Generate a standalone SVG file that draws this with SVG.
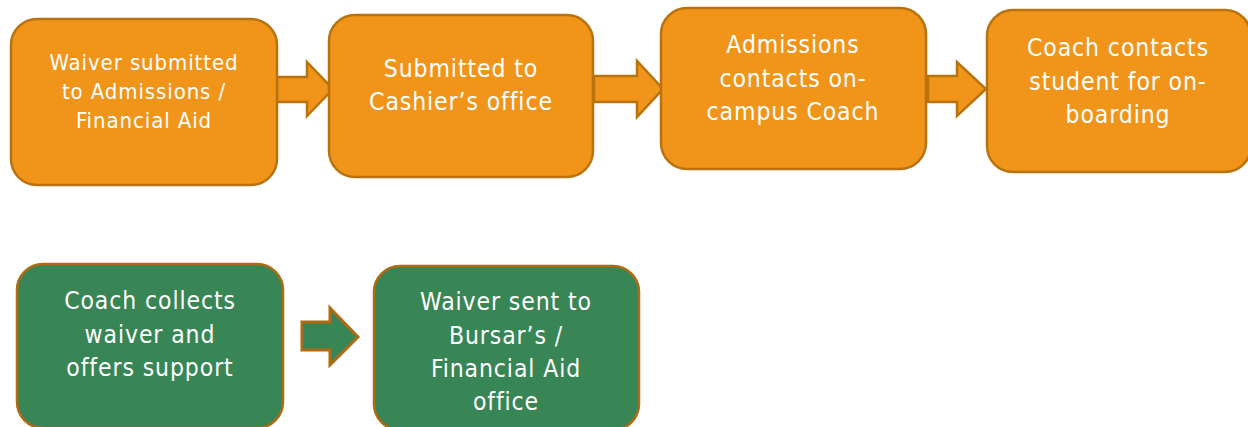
<svg xmlns="http://www.w3.org/2000/svg" width="1248" height="427" viewBox="0 0 1248 427">
  <style>
    .step-o { fill: #F0951A; stroke: #B8730F; stroke-width: 2.5; }
    .step-g { fill: #388555; stroke: #B06A12; stroke-width: 2.5; }
    .arr-o { fill: #F0951A; stroke: #B8730F; stroke-width: 2.5; stroke-linejoin: miter; }
    .arr-g { fill: #388555; stroke: #B06A12; stroke-width: 3; stroke-linejoin: miter; }
    text { font-family: "DejaVu Sans Condensed", "DejaVu Sans", sans-serif; font-stretch: condensed; fill: #FFFFFF; text-anchor: middle; letter-spacing: 0.9px; }
    .t20 { font-size: 22px; }
    .t24 { font-size: 24.5px; }
  </style>
  <rect width="1248" height="427" fill="#FFFFFF"/>

  <g id="connectors">
    <polygon class="arr-o" points="277,77 307,77 307,62 333,89 307,116 307,102 277,102"/>
    <polygon class="arr-o" points="594,76 637,76 637,61 663,89 637,117 637,102 594,102"/>
    <polygon class="arr-o" points="928,76 957,76 957,62 986,89 957,116 957,102 928,102"/>
    <polygon class="arr-g" points="302,322 330,322 330,308 358,337 330,365 330,350 302,350"/>
  </g>

  <g id="node-waiver-submitted">
    <rect class="step-o" x="11" y="19" width="266" height="166" rx="26"/>
    <text class="t20" x="144" y="70">Waiver submitted</text>
    <text class="t20" x="144" y="99">to Admissions /</text>
    <text class="t20" x="144" y="128">Financial Aid</text>
  </g>

  <g id="node-cashier">
    <rect class="step-o" x="329" y="15" width="264" height="162" rx="26"/>
    <text class="t24" x="461" y="77">Submitted to</text>
    <text class="t24" x="461" y="110">Cashier’s office</text>
  </g>

  <g id="node-admissions-coach">
    <rect class="step-o" x="661" y="8" width="265" height="161" rx="26"/>
    <text class="t24" x="793" y="53">Admissions</text>
    <text class="t24" x="793" y="87">contacts on-</text>
    <text class="t24" x="793" y="120">campus Coach</text>
  </g>

  <g id="node-coach-onboarding">
    <rect class="step-o" x="987" y="10" width="264" height="162" rx="26"/>
    <text class="t24" x="1118" y="56">Coach contacts</text>
    <text class="t24" x="1118" y="90">student for on-</text>
    <text class="t24" x="1118" y="123">boarding</text>
  </g>

  <g id="node-coach-collects">
    <rect class="step-g" x="17" y="264" width="266" height="164" rx="26"/>
    <text class="t24" x="150" y="309">Coach collects</text>
    <text class="t24" x="150" y="343">waiver and</text>
    <text class="t24" x="150" y="376">offers support</text>
  </g>

  <g id="node-bursar">
    <rect class="step-g" x="374" y="266" width="265" height="164" rx="26"/>
    <text class="t24" x="506" y="310">Waiver sent to</text>
    <text class="t24" x="506" y="344">Bursar’s /</text>
    <text class="t24" x="506" y="377">Financial Aid</text>
    <text class="t24" x="506" y="410">office</text>
  </g>
</svg>
